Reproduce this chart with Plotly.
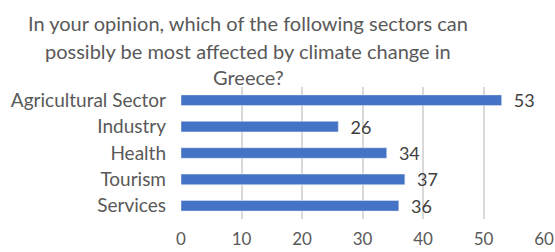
import plotly.graph_objects as go

categories = ["Agricultural Sector", "Industry", "Health", "Tourism", "Services"]
values = [53, 26, 34, 37, 36]
x_ticks = [0, 10, 20, 30, 40, 50, 60]
title_lines = ["In your opinion, which of the following sectors can",
               "possibly be most affected by climate change in",
               "Greece?"]

W, H = 555, 252
ML, MR, MT, MB = 181, 11, 87, 33
PH = H - MT - MB
PW = W - ML - MR
TXT = "#595959"
FONT = "Lato"
title_centers_px = [23, 51, 77]

fig = go.Figure(go.Bar(
    y=categories, x=values, orientation="h",
    marker=dict(color="#4472C4"),
    texttemplate="\u00a0\u00a0%{x}", textposition="outside",
    constraintext="none",
    textfont=dict(size=18, color="#404040", family=FONT),
    cliponaxis=False, width=0.40, hoverinfo="skip",
))

annotations = []
for line, yc in zip(title_lines, title_centers_px):
    annotations.append(dict(
        text=line, xref="paper", yref="paper",
        x=(248 - ML) / PW, y=(H - MB - yc) / PH,
        xanchor="center", yanchor="middle", showarrow=False,
        font=dict(family=FONT, size=20, color=TXT)))

fig.update_layout(
    width=W, height=H,
    margin=dict(l=ML, r=MR, t=MT, b=MB, autoexpand=False),
    paper_bgcolor="white", plot_bgcolor="white",
    showlegend=False,
    annotations=annotations,
    xaxis=dict(range=[0, 60], tickvals=x_ticks, showgrid=True,
               gridcolor="#D9D9D9", gridwidth=2, zeroline=False,
               showline=False, ticks="", ticklabelstandoff=8,
               automargin=False, fixedrange=True,
               tickfont=dict(family=FONT, size=17, color=TXT)),
    yaxis=dict(autorange="reversed", showgrid=False, showline=False, ticks="",
               ticklabelstandoff=14, automargin=False, fixedrange=True,
               tickfont=dict(family=FONT, size=19, color=TXT)),
    font=dict(family=FONT),
)

fig.write_html("out.html",
               config={"displayModeBar": False, "staticPlot": True},
               post_script="document.body.style.margin='0';"
                           "document.body.style.overflow='hidden';")
